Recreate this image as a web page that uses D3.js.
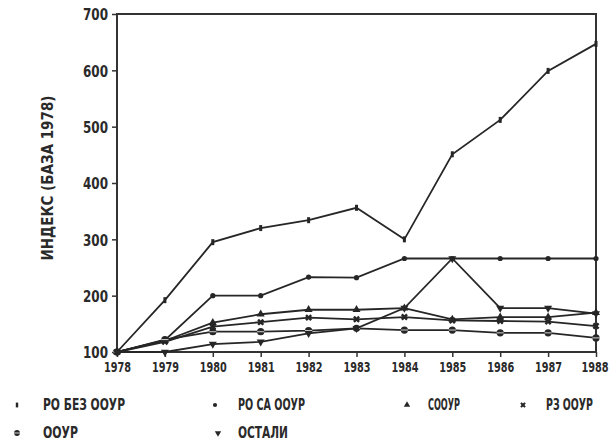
<!DOCTYPE html>
<html><head><meta charset="utf-8">
<script src="https://cdn.jsdelivr.net/npm/d3@7"></script>
<style>
html,body{margin:0;padding:0;background:#fff;}
svg text{font-family:"DejaVu Sans Condensed","DejaVu Sans",sans-serif;fill:#2a2a2a;font-weight:bold;}
</style></head>
<body><svg id="c" width="614" height="445"></svg>
<script>
const years = [1978,1979,1980,1981,1982,1983,1984,1985,1986,1987,1988];
const yTicks = [100,200,300,400,500,600,700];
const seriesNames = ["РО БЕЗ ООУР","РО СА ООУР","СООУР","РЗ ООУР","ООУР","ОСТАЛИ"];
const roBez   = [100,192,295,320,334,356,300,451,512,599,647];
const roSa    = [100,121,200,200,233,232,266,266,266,266,266];
const soour   = [100,120,152,167,175,175,178,158,162,162,170];
const rzOour  = [100,118,145,153,161,158,162,156,155,154,146];
const oour    = [100,122,136,136,138,142,139,139,134,134,125];
const ostali  = [100,100,114,118,133,142,178,266,178,178,168];
const seriesValues = [roBez,roSa,soour,rzOour,oour,ostali];
const markerTypes = ["bar","dot","triangle","star","circle","down"];
const yTitle = "ИНДЕКС (БАЗА 1978)";

const svg = d3.select("#c");
const x = d3.scaleLinear().domain([1978,1988]).range([117,596]);
const y = d3.scaleLinear().domain([100,700]).range([352,14]);
const ink = "#262626";

svg.append("rect").attr("x",x(1978)).attr("y",y(700)).attr("width",x(1988)-x(1978)).attr("height",y(100)-y(700))
  .attr("fill","none").attr("stroke","#333").attr("stroke-width",2);

const ya = svg.append("g").attr("transform",`translate(${x(1978)},0)`)
  .call(d3.axisLeft(y).tickValues(yTicks).tickSize(5).tickPadding(4).tickFormat(d3.format("d")));
ya.select(".domain").remove();
ya.selectAll("line").attr("stroke","#333").attr("stroke-width",1.5);
ya.selectAll("text").attr("font-size",16).attr("font-weight","bold").attr("fill","#2a2a2a")
  .attr("dy","0.36em").attr("textLength",25).attr("lengthAdjust","spacingAndGlyphs");

const xa = svg.append("g").attr("transform",`translate(0,${y(100)})`)
  .call(d3.axisBottom(x).tickValues(years).tickSize(5).tickPadding(5).tickFormat(d3.format("d")));
xa.select(".domain").remove();
xa.selectAll("line").attr("stroke","#333").attr("stroke-width",1.5);
xa.selectAll("text").attr("font-size",13.5).attr("font-weight","bold").attr("fill","#2a2a2a")
  .attr("textLength",27).attr("lengthAdjust","spacingAndGlyphs");
xa.selectAll(".tick").filter(d=>d===1988).select("text").attr("text-anchor","end").attr("x",12);

svg.append("text").attr("transform","translate(53,178) rotate(-90)").attr("text-anchor","middle")
  .attr("font-size",16).attr("textLength",165).attr("lengthAdjust","spacingAndGlyphs").text(yTitle);

const line = d3.line().x((d,i)=>x(years[i])).y(d=>y(d));
function marker(g, type, cx, cy, s){
  s = s||1;
  if(type==="bar") g.append("rect").attr("x",cx-1.5*s).attr("y",cy-3*s).attr("width",3*s).attr("height",6*s).attr("fill",ink);
  else if(type==="dot") g.append("circle").attr("cx",cx).attr("cy",cy).attr("r",2.6*s).attr("fill",ink);
  else if(type==="triangle") g.append("path").attr("d",d3.symbol(d3.symbolTriangle,28*s*s)()).attr("transform",`translate(${cx},${cy})`).attr("fill",ink);
  else if(type==="star") g.append("path").attr("d",d3.symbol(d3.symbolCross,30*s*s)()).attr("transform",`translate(${cx},${cy}) rotate(45)`).attr("fill",ink);
  else if(type==="circle"){ g.append("circle").attr("cx",cx).attr("cy",cy).attr("r",3.6*s).attr("fill",ink);
    g.append("line").attr("x1",cx-3.6*s).attr("x2",cx+3.6*s).attr("y1",cy).attr("y2",cy).attr("stroke","#fff").attr("stroke-width",0.8);}
  else if(type==="down") g.append("path").attr("d",d3.symbol(d3.symbolTriangle,28*s*s)()).attr("transform",`translate(${cx},${cy}) rotate(180)`).attr("fill",ink);
}
seriesValues.forEach((vals,si)=>{
  svg.append("path").attr("d",line(vals)).attr("fill","none").attr("stroke",ink).attr("stroke-width",1.8);
  const g = svg.append("g");
  vals.forEach((v,i)=>marker(g, markerTypes[si], x(years[i]), y(v), 1));
});

// legend: [marker x, row y, text x, text width]
const legendPos = [[17,405,43,82],[215,405,238,67],[407,405,428,32],[523,405,546,47],[17,433,43,35],[218,433,238,50]];
seriesNames.forEach((n,i)=>{
  const [mx,ly,tx,tw] = legendPos[i];
  const g = svg.append("g");
  marker(g, markerTypes[i], mx, ly, 0.8);
  g.append("text").attr("x",tx).attr("y",ly).attr("dy","0.36em").attr("font-size",15)
    .attr("textLength",tw).attr("lengthAdjust","spacingAndGlyphs").text(n);
});
</script></body></html>
